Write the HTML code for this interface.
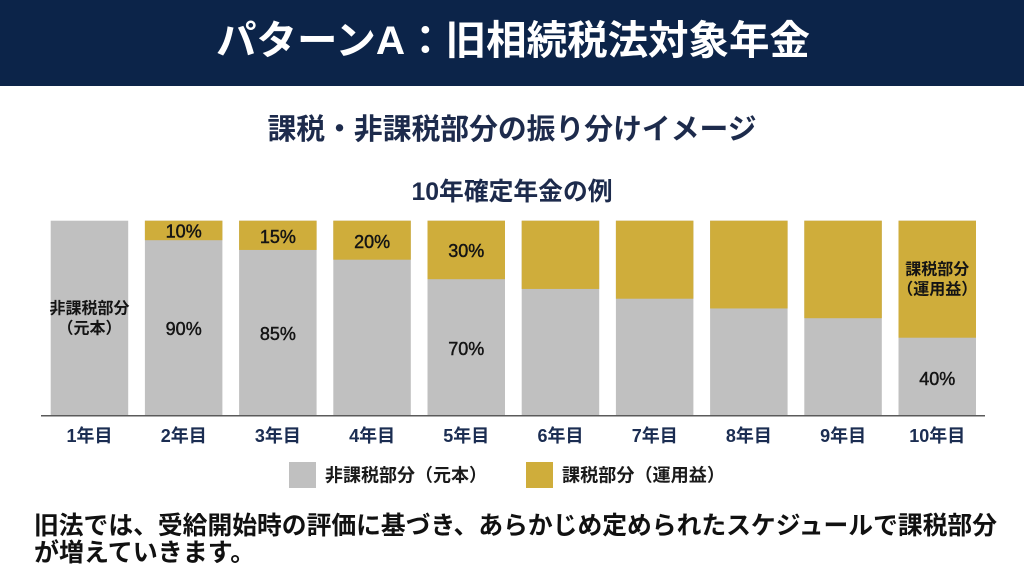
<!DOCTYPE html>
<html><head><meta charset="utf-8">
<style>
html,body{margin:0;padding:0;background:#fff;}
svg{display:block;}
text{font-family:"Liberation Sans","Noto Sans CJK JP",sans-serif;}
</style></head>
<body>
<svg width="1024" height="577" viewBox="0 0 1024 577" xmlns="http://www.w3.org/2000/svg">
<rect x="0" y="0" width="1024" height="577" fill="#ffffff"/>
<rect x="0" y="0" width="1024" height="86" fill="#0c2449"/>
<text x="513" y="41" fill="#ffffff" font-size="40" font-weight="bold" text-anchor="middle" dominant-baseline="central" textLength="594" lengthAdjust="spacingAndGlyphs">パターンA：旧相続税法対象年金</text>
<text x="512" y="130" fill="#1d2b4c" font-size="29" font-weight="bold" text-anchor="middle" dominant-baseline="central" textLength="489" lengthAdjust="spacingAndGlyphs">課税・非課税部分の振り分けイメージ</text>
<text x="512" y="192" fill="#1d2b4c" font-size="25" font-weight="bold" text-anchor="middle" dominant-baseline="central" textLength="201" lengthAdjust="spacingAndGlyphs">10年確定年金の例</text>

<!-- bars -->
<g>
<rect x="50.7" y="220.7" width="77.5" height="195" fill="#c0c0c0"/>

<rect x="144.9" y="220.7" width="77.5" height="195" fill="#c0c0c0"/>
<rect x="144.9" y="220.7" width="77.5" height="19.5" fill="#cfad3b"/>

<rect x="239.1" y="220.7" width="77.5" height="195" fill="#c0c0c0"/>
<rect x="239.1" y="220.7" width="77.5" height="29.25" fill="#cfad3b"/>

<rect x="333.3" y="220.7" width="77.5" height="195" fill="#c0c0c0"/>
<rect x="333.3" y="220.7" width="77.5" height="39" fill="#cfad3b"/>

<rect x="427.5" y="220.7" width="77.5" height="195" fill="#c0c0c0"/>
<rect x="427.5" y="220.7" width="77.5" height="58.5" fill="#cfad3b"/>

<rect x="521.7" y="220.7" width="77.5" height="195" fill="#c0c0c0"/>
<rect x="521.7" y="220.7" width="77.5" height="68.25" fill="#cfad3b"/>

<rect x="615.9" y="220.7" width="77.5" height="195" fill="#c0c0c0"/>
<rect x="615.9" y="220.7" width="77.5" height="78" fill="#cfad3b"/>

<rect x="710.1" y="220.7" width="77.5" height="195" fill="#c0c0c0"/>
<rect x="710.1" y="220.7" width="77.5" height="87.75" fill="#cfad3b"/>

<rect x="804.3" y="220.7" width="77.5" height="195" fill="#c0c0c0"/>
<rect x="804.3" y="220.7" width="77.5" height="97.5" fill="#cfad3b"/>

<rect x="898.5" y="220.7" width="77.5" height="195" fill="#c0c0c0"/>
<rect x="898.5" y="220.7" width="77.5" height="117" fill="#cfad3b"/>
</g>

<line x1="41" y1="415.8" x2="985" y2="415.8" stroke="#5a5a5a" stroke-width="1.5"/>

<!-- bar labels -->
<g fill="#141414" text-anchor="middle" dominant-baseline="central">
<text x="89.5" y="309" font-size="16" font-weight="bold">非課税部分</text>
<text x="89.5" y="329" font-size="16" font-weight="bold">（元本）</text>
<g stroke="#141414" stroke-width="0.45">
<text x="183.7" y="231.5" font-size="18">10%</text>
<text x="183.7" y="329" font-size="18">90%</text>
<text x="277.9" y="237" font-size="18">15%</text>
<text x="277.9" y="334" font-size="18">85%</text>
<text x="372.1" y="242" font-size="18">20%</text>
<text x="466.3" y="251" font-size="18">30%</text>
<text x="466.3" y="349" font-size="18">70%</text>
<text x="937.3" y="379" font-size="18">40%</text>
</g>
<text x="937.3" y="270" font-size="16" font-weight="bold">課税部分</text>
<text x="937.3" y="290" font-size="16" font-weight="bold">（運用益）</text>
</g>

<!-- x axis labels -->
<g fill="#1b2d52" font-size="18" font-weight="bold" text-anchor="middle" dominant-baseline="central">
<text x="89.5" y="436">1年目</text>
<text x="183.7" y="436">2年目</text>
<text x="277.9" y="436">3年目</text>
<text x="372.1" y="436">4年目</text>
<text x="466.3" y="436">5年目</text>
<text x="560.5" y="436">6年目</text>
<text x="654.7" y="436">7年目</text>
<text x="748.9" y="436">8年目</text>
<text x="843.1" y="436">9年目</text>
<text x="937.3" y="436">10年目</text>
</g>

<!-- legend -->
<rect x="289" y="462" width="27" height="26" fill="#c0c0c0"/>
<text x="325" y="475.5" fill="#1a1a1a" font-size="18" font-weight="bold" dominant-baseline="central" textLength="162" lengthAdjust="spacingAndGlyphs">非課税部分（元本）</text>
<rect x="526" y="462" width="27" height="26" fill="#cfad3b"/>
<text x="562" y="475.5" fill="#1a1a1a" font-size="18" font-weight="bold" dominant-baseline="central" textLength="163" lengthAdjust="spacingAndGlyphs">課税部分（運用益）</text>

<!-- bottom text -->
<text x="34" y="526" fill="#111111" font-size="25" font-weight="bold" dominant-baseline="central" textLength="963" lengthAdjust="spacingAndGlyphs">旧法では、受給開始時の評価に基づき、あらかじめ定められたスケジュールで課税部分</text>
<text x="34" y="553" fill="#111111" font-size="25" font-weight="bold" dominant-baseline="central">が増えていきます。</text>
</svg>
</body></html>
